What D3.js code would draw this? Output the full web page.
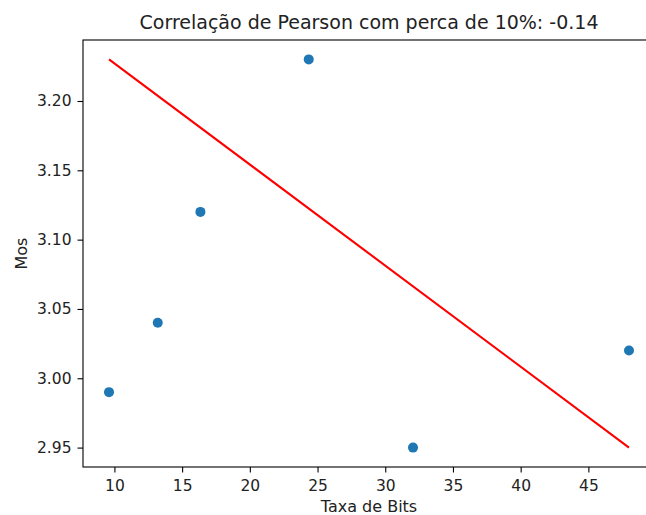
<!DOCTYPE html>
<html>
<head>
<meta charset="utf-8">
<script src="https://cdn.jsdelivr.net/npm/d3@7"></script>
<style>
  html, body { margin: 0; padding: 0; background: #ffffff; }
  svg { display: block; font-family: "DejaVu Sans", sans-serif; }
</style>
</head>
<body>
<svg id="chart" width="646" height="515"></svg>
<script>
// Data
const bitRates = [9.6, 13.2, 16.35, 24.35, 32.05, 48.0];
const mosValues = [2.99, 3.04, 3.12, 3.23, 2.95, 3.02];
const fitLineX = [9.6, 48.0];
const fitLineY = [3.23, 2.95];
const xTicks = [10, 15, 20, 25, 30, 35, 40, 45];
const yTicks = [2.95, 3.00, 3.05, 3.10, 3.15, 3.20];
const titleText = "Correlação de Pearson com perca de 10%: -0.14";
const xLabelText = "Taxa de Bits";
const yLabelText = "Mos";

const svg = d3.select("#chart");
const plot = { left: 83, right: 655, top: 40, bottom: 467 };

function padded(ext) {
  const r = ext[1] - ext[0];
  return [ext[0] - 0.05 * r, ext[1] + 0.05 * r];
}
const xExt = d3.extent(bitRates.concat(fitLineX));
const yExt = d3.extent(mosValues.concat(fitLineY));

const x = d3.scaleLinear().domain(padded(xExt)).range([plot.left, plot.right]);
const y = d3.scaleLinear().domain(padded(yExt)).range([plot.bottom, plot.top]);

const tickFont = 15.5;
const labelFont = 16;

// X axis
const xAxis = d3.axisBottom(x).tickValues(xTicks).tickSize(5.5).tickPadding(7.5).tickFormat(d3.format("d"));
const gx = svg.append("g").attr("transform", `translate(0,${plot.bottom})`).call(xAxis);
gx.select(".domain").remove();
gx.selectAll("line").attr("stroke", "#000").attr("stroke-width", 1.1);
gx.selectAll("text").attr("font-size", tickFont).attr("fill", "#222").attr("font-family", "DejaVu Sans");

// Y axis
const yAxis = d3.axisLeft(y).tickValues(yTicks).tickSize(5.5).tickPadding(6).tickFormat(d3.format(".2f"));
const gy = svg.append("g").attr("transform", `translate(${plot.left},0)`).call(yAxis);
gy.select(".domain").remove();
gy.selectAll("line").attr("stroke", "#000").attr("stroke-width", 1.1);
gy.selectAll("text").attr("font-size", tickFont).attr("fill", "#222").attr("font-family", "DejaVu Sans");

// Fit line
const line = d3.line().x(d => x(d[0])).y(d => y(d[1]));
svg.append("path")
  .datum(d3.zip(fitLineX, fitLineY))
  .attr("d", line)
  .attr("fill", "none")
  .attr("stroke", "#ff0000")
  .attr("stroke-width", 2.1);

// Scatter points
svg.append("g").selectAll("circle")
  .data(d3.zip(bitRates, mosValues))
  .join("circle")
  .attr("cx", d => x(d[0]))
  .attr("cy", d => y(d[1]))
  .attr("r", 5)
  .attr("fill", "#1f77b4");

// Spines (frame)
svg.append("rect")
  .attr("x", plot.left).attr("y", plot.top)
  .attr("width", plot.right - plot.left).attr("height", plot.bottom - plot.top)
  .attr("fill", "none").attr("stroke", "#000").attr("stroke-width", 1.1);

// Title
svg.append("text")
  .attr("x", (plot.left + plot.right) / 2).attr("y", 29)
  .attr("text-anchor", "middle")
  .attr("font-size", 19).attr("fill", "#222")
  .text(titleText);

// Axis labels
svg.append("text")
  .attr("x", (plot.left + plot.right) / 2).attr("y", 512)
  .attr("text-anchor", "middle")
  .attr("font-size", labelFont).attr("fill", "#222")
  .text(xLabelText);

svg.append("text")
  .attr("transform", `translate(27,${(plot.top + plot.bottom) / 2}) rotate(-90)`)
  .attr("text-anchor", "middle")
  .attr("font-size", labelFont).attr("fill", "#222")
  .text(yLabelText);
</script>
</body>
</html>
